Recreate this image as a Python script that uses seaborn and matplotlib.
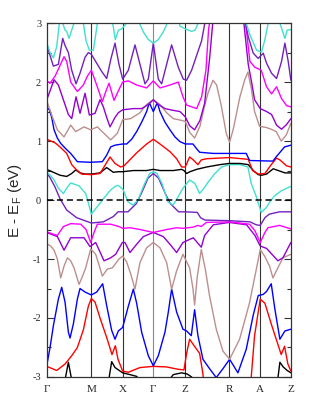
import numpy as np
import pandas as pd
import seaborn as sns
import matplotlib
matplotlib.use("Agg")
import matplotlib.pyplot as plt

# high-symmetry path
sym_labels = ["Γ", "M", "X", "Γ", "Z", "R", "A", "Z"]
sym_pos = [140, 274, 368, 460, 556, 688, 781, 873]

# ---- band energies (eV): k positions and energies ----
b01_k = [140, 185, 195, 205, 215, 225, 274, 322, 335, 345, 368, 390, 410, 425, 460, 500, 520, 545, 562, 575, 590, 688, 781, 830, 840, 850, 862, 873]
b01_e = [-3.3, -3.3, -3.05, -2.75, -3.05, -3.3, -3.3, -3.2, -2.74, -2.84, -2.93, -2.96, -2.99, -3.1, -3.2, -3.1, -2.96, -2.93, -2.95, -3.0, -3.2, -3.3, -3.3, -3.2, -2.75, -2.83, -2.89, -2.93]

b02_k = [140, 170, 195, 215, 232, 250, 265, 274, 285, 300, 320, 336, 346, 354, 368, 385, 420, 460, 500, 535, 552, 560, 569, 580, 599, 609, 616, 748, 754, 764, 781, 795, 814, 844, 854, 864, 873]
b02_e = [-2.82, -2.89, -2.78, -2.64, -2.5, -2.2, -1.8, -1.67, -1.73, -2.0, -2.33, -2.62, -2.47, -2.7, -2.9, -2.92, -2.84, -2.82, -2.83, -2.87, -2.88, -2.6, -2.36, -2.45, -2.6, -2.95, -3.5, -3.5, -3.0, -2.3, -1.68, -1.75, -2.1, -2.62, -2.48, -2.78, -2.9]

b03_k = [140, 150, 160, 175, 185, 195, 205, 210, 220, 232, 240, 255, 274, 290, 308, 320, 335, 345, 355, 368, 385, 400, 410, 425, 445, 460, 475, 495, 505, 515, 530, 549, 560, 574, 584, 594, 609, 629, 649, 669, 689, 700, 714, 739, 760, 775, 790, 800, 814, 825, 840, 855, 873]
b03_e = [-2.81, -2.5, -2.13, -1.68, -1.48, -1.73, -2.24, -2.34, -2.1, -1.68, -1.5, -1.56, -1.61, -1.56, -1.42, -1.79, -2.21, -2.36, -2.22, -2.16, -1.8, -1.51, -1.75, -2.24, -2.64, -2.81, -2.64, -2.24, -1.9, -1.51, -1.9, -2.19, -2.22, -2.3, -1.86, -2.3, -2.7, -2.86, -3.01, -2.86, -2.7, -2.8, -2.93, -2.53, -1.95, -1.62, -1.6, -1.55, -1.42, -1.85, -2.36, -2.22, -2.19]

b04_k = [140, 152, 162, 172, 182, 192, 202, 212, 222, 237, 247, 257, 272, 287, 297, 307, 322, 337, 357, 368, 380, 392, 405, 420, 440, 460, 480, 500, 515, 530, 549, 569, 579, 584, 592, 604, 617, 629, 649, 669, 689, 719, 749, 769, 781, 794, 809, 819, 834, 849, 873]
b04_e = [-0.74, -0.78, -0.85, -1.0, -1.32, -1.12, -0.98, -1.03, -1.15, -1.43, -1.3, -1.15, -0.83, -0.92, -1.1, -1.29, -1.17, -1.15, -1.0, -0.95, -1.05, -1.25, -1.51, -1.06, -0.81, -0.72, -0.81, -1.06, -1.51, -1.2, -0.92, -1.15, -1.5, -1.78, -1.3, -0.84, -1.2, -1.63, -2.19, -2.56, -2.7, -2.36, -1.74, -1.18, -0.84, -0.95, -1.12, -1.32, -1.15, -0.98, -0.92]

b05_k = [140, 172, 192, 212, 252, 270, 287, 312, 332, 347, 367, 375, 390, 410, 430, 460, 490, 510, 530, 549, 580, 604, 614, 640, 688, 740, 765, 781, 800, 834, 849, 873]
b05_e = [-0.55, -0.62, -0.85, -0.64, -0.64, -0.79, -0.72, -1.03, -0.98, -0.92, -0.72, -0.72, -0.89, -0.75, -0.62, -0.55, -0.62, -0.75, -0.89, -0.72, -0.64, -0.8, -0.6, -0.42, -0.38, -0.42, -0.6, -0.78, -0.82, -1.03, -0.98, -0.72]

b06_k = [140, 160, 172, 190, 212, 242, 258, 272, 282, 292, 332, 357, 368, 390, 420, 460, 500, 530, 549, 579, 594, 604, 619, 689, 749, 765, 781, 795, 804, 839, 873]
b06_e = [-0.54, -0.58, -0.6, -0.45, -0.4, -0.41, -0.5, -0.72, -0.55, -0.41, -0.41, -0.45, -0.48, -0.47, -0.5, -0.55, -0.5, -0.47, -0.48, -0.46, -0.43, -0.45, -0.38, -0.37, -0.41, -0.52, -0.72, -0.55, -0.47, -0.43, -0.49]

b07_k = [140, 150, 165, 180, 200, 230, 274, 310, 340, 354, 384, 409, 424, 444, 460, 476, 496, 511, 536, 556, 592, 602, 615, 688, 750, 769, 781, 795, 808, 839, 873]
b07_e = [0.46, 0.38, 0.22, 0.02, -0.17, -0.3, -0.39, -0.37, -0.28, -0.2, -0.2, -0.06, 0.11, 0.37, 0.45, 0.37, 0.11, -0.06, -0.2, -0.2, -0.21, -0.3, -0.34, -0.35, -0.37, -0.42, -0.43, -0.3, -0.24, -0.2, -0.2]

b08_k = [140, 150, 162, 175, 190, 200, 212, 237, 257, 265, 274, 285, 302, 317, 330, 345, 354, 369, 384, 399, 414, 434, 449, 460, 471, 486, 504, 519, 534, 549, 569, 585, 599, 612, 624, 645, 665, 688, 720, 744, 754, 769, 784, 799, 811, 824, 845, 873]
b08_e = [0.47, 0.42, 0.34, 0.2, 0.11, 0.2, 0.29, 0.24, 0.11, -0.05, -0.24, -0.16, -0.04, 0.07, 0.16, 0.23, 0.25, 0.18, -0.03, -0.085, 0.0, 0.28, 0.45, 0.48, 0.45, 0.28, -0.03, -0.085, 0.05, 0.2, 0.34, 0.28, 0.11, 0.2, 0.3, 0.45, 0.56, 0.6, 0.6, 0.56, 0.28, 0.06, -0.21, -0.13, -0.02, 0.07, 0.16, 0.23]

b09_k = [140, 160, 180, 200, 215, 227, 240, 255, 274, 300, 320, 340, 354, 368, 400, 440, 460, 480, 520, 545, 552, 560, 570, 590, 620, 660, 688, 720, 745, 760, 775, 785, 800, 820, 835, 855, 873]
b09_e = [0.52, 0.47, 0.42, 0.4, 0.45, 0.51, 0.46, 0.44, 0.44, 0.46, 0.55, 0.47, 0.48, 0.48, 0.5, 0.5, 0.52, 0.5, 0.5, 0.52, 0.5, 0.45, 0.48, 0.52, 0.56, 0.6, 0.62, 0.62, 0.6, 0.5, 0.43, 0.42, 0.44, 0.53, 0.5, 0.46, 0.46]

b10_k = [140, 165, 180, 200, 215, 228, 245, 274, 300, 312, 330, 345, 362, 372, 386, 410, 440, 460, 480, 510, 530, 545, 556, 569, 580, 594, 604, 620, 688, 745, 758, 775, 795, 814, 830, 840, 860, 873]
b10_e = [1.03, 0.97, 0.9, 0.79, 0.6, 0.52, 0.44, 0.43, 0.45, 0.56, 0.73, 0.62, 0.56, 0.58, 0.66, 0.8, 0.95, 1.03, 0.95, 0.82, 0.7, 0.56, 0.56, 0.73, 0.68, 0.6, 0.68, 0.7, 0.72, 0.69, 0.5, 0.44, 0.45, 0.6, 0.71, 0.68, 0.58, 0.56]

b11_k = [140, 147, 155, 162, 172, 182, 197, 212, 225, 232, 270, 307, 320, 332, 345, 368, 380, 395, 410, 425, 440, 448, 460, 472, 480, 495, 510, 525, 540, 556, 579, 590, 599, 640, 739, 749, 819, 830, 839, 854, 873]
b11_e = [1.53, 1.55, 1.4, 1.19, 1.05, 0.96, 0.87, 0.79, 0.7, 0.65, 0.64, 0.65, 0.76, 0.9, 0.93, 0.95, 0.95, 1.03, 1.16, 1.32, 1.5, 1.65, 1.5, 1.65, 1.5, 1.32, 1.19, 1.07, 0.99, 0.95, 0.95, 0.87, 0.81, 0.79, 0.79, 0.67, 0.66, 0.74, 0.8, 0.9, 0.93]

b12_k = [140, 157, 172, 192, 212, 227, 252, 272, 292, 312, 332, 352, 368, 392, 420, 440, 460, 480, 500, 520, 545, 556, 569, 584, 600, 612, 624, 639, 650, 664, 679, 689, 700, 720, 734, 744, 754, 764, 779, 799, 814, 829, 844, 859, 873]
b12_e = [1.68, 1.41, 1.19, 1.07, 1.27, 1.16, 1.24, 1.19, 1.24, 1.13, 1.02, 1.13, 1.36, 1.38, 1.48, 1.62, 1.7, 1.62, 1.48, 1.38, 1.35, 1.33, 1.15, 1.05, 1.25, 1.55, 1.81, 2.03, 1.95, 1.6, 1.13, 0.98, 1.2, 1.75, 2.03, 2.17, 1.9, 1.5, 1.25, 1.23, 1.2, 1.16, 1.0, 1.1, 1.3]

b13_k = [140, 150, 162, 175, 190, 205, 215, 228, 240, 255, 268, 285, 300, 310, 320, 330, 345, 355, 368, 400, 425, 445, 460, 475, 495, 520, 540, 556, 569, 584, 600, 614, 629, 640, 650, 720, 730, 745, 755, 764, 781, 800, 815, 830, 845, 860, 873]
b13_e = [1.7, 1.85, 2.04, 1.95, 1.7, 1.45, 1.38, 1.75, 1.47, 1.81, 1.44, 1.47, 1.7, 1.58, 1.4, 1.24, 1.4, 1.48, 1.53, 1.55, 1.55, 1.62, 1.7, 1.62, 1.55, 1.52, 1.5, 1.41, 1.26, 1.19, 1.35, 1.64, 2.4, 3.1, 3.4, 3.4, 3.1, 2.3, 2.0, 1.7, 1.55, 1.5, 1.45, 1.27, 1.2, 1.28, 1.38]

b14_k = [140, 150, 160, 165, 175, 192, 200, 212, 232, 250, 262, 274, 290, 307, 318, 327, 342, 355, 368, 385, 410, 440, 460, 480, 510, 535, 549, 560, 575, 590, 605, 618, 626, 632, 642, 725, 735, 750, 765, 784, 800, 815, 830, 845, 860, 873]
b14_e = [2.02, 1.98, 2.06, 2.1, 2.22, 2.43, 2.35, 2.0, 1.84, 1.95, 2.1, 2.2, 1.95, 1.67, 1.85, 1.98, 1.69, 1.85, 2.0, 2.02, 1.95, 1.9, 2.02, 1.9, 1.95, 2.0, 1.75, 1.61, 1.58, 1.55, 1.75, 2.2, 2.9, 3.1, 3.4, 3.4, 3.1, 2.35, 2.25, 2.2, 1.92, 1.8, 1.92, 1.72, 1.6, 1.58]

b15_k = [140, 150, 160, 175, 188, 195, 205, 215, 228, 240, 255, 265, 274, 290, 305, 320, 333, 345, 357, 368, 385, 405, 420, 435, 445, 460, 475, 485, 500, 515, 535, 550, 560, 575, 590, 605, 618, 625, 725, 733, 745, 760, 775, 790, 800, 815, 830, 845, 855, 865, 873]
b15_e = [2.64, 2.45, 2.27, 2.3, 2.74, 2.62, 2.5, 2.2, 1.97, 2.15, 2.42, 2.5, 2.47, 2.32, 2.18, 2.06, 2.4, 2.66, 2.3, 2.05, 2.2, 2.63, 2.3, 1.97, 2.05, 2.66, 2.05, 1.97, 2.3, 2.63, 2.25, 2.05, 2.03, 2.2, 2.45, 2.7, 3.1, 3.4, 3.4, 3.1, 2.77, 2.49, 2.4, 2.49, 2.32, 2.15, 2.06, 2.35, 2.66, 2.35, 2.03]

b16_k = [140, 150, 160, 170, 178, 183, 188, 195, 200, 207, 215, 222, 230, 245, 250, 258, 268, 280, 287, 292, 300, 332, 338, 346, 355, 365, 380, 390, 410, 418, 430, 445, 460, 475, 490, 502, 510, 530, 540, 556, 575, 585, 595, 605, 728, 736, 750, 770, 785, 795, 805, 810, 835, 840, 855, 862, 873]
b16_e = [2.66, 2.5, 2.41, 2.6, 3.0, 3.2, 3.0, 2.88, 2.86, 2.74, 2.88, 3.0, 3.2, 3.2, 3.0, 2.7, 2.54, 2.54, 2.8, 3.0, 3.2, 3.2, 3.0, 2.72, 2.88, 2.9, 3.0, 3.2, 3.2, 3.0, 2.85, 2.72, 2.66, 2.72, 2.85, 3.0, 3.2, 3.2, 2.95, 2.9, 2.86, 2.88, 3.0, 3.2, 3.2, 3.05, 2.8, 2.54, 2.51, 2.72, 3.0, 3.2, 3.2, 3.0, 2.74, 2.88, 2.89]

band_k = [b01_k, b02_k, b03_k, b04_k, b05_k, b06_k, b07_k, b08_k,
          b09_k, b10_k, b11_k, b12_k, b13_k, b14_k, b15_k, b16_k]
band_e = [b01_e, b02_e, b03_e, b04_e, b05_e, b06_e, b07_e, b08_e,
          b09_e, b10_e, b11_e, b12_e, b13_e, b14_e, b15_e, b16_e]

# xmgrace-like colour cycle
cycle = ["#000000", "#ff0000", "#0000ff", "#bc8f8f", "#9400d3", "#ff00ff", "#7221bc", "#40e0d0"]

frames = []
for i, (kk, ee) in enumerate(zip(band_k, band_e)):
    frames.append(pd.DataFrame({"k": kk, "E": ee, "band": f"b{i+1:02d}"}))
df = pd.concat(frames, ignore_index=True)
palette = {f"b{i+1:02d}": cycle[i % 8] for i in range(len(band_k))}

sns.set_style("ticks")
plt.rcParams["font.family"] = ["Liberation Serif", "DejaVu Serif"]
plt.rcParams["mathtext.fontset"] = "custom"
plt.rcParams["mathtext.rm"] = "Liberation Sans"

fig = plt.figure(figsize=(3.2, 4.12), dpi=100)
ax = fig.add_axes([0.146, 0.085, 0.763, 0.859])

for i, p in enumerate(sym_pos[1:-1]):
    ax.axvline(p, color="#888888" if sym_labels[i + 1] == "Γ" else "#333333", lw=0.8, zorder=1)

sns.lineplot(data=df, x="k", y="E", hue="band", palette=palette, sort=False,
             estimator=None, legend=False, linewidth=1.0, ax=ax, zorder=2)

ax.axhline(0, color="black", lw=1.1, ls=(0, (4, 2.5)), zorder=3)

ax.set_xlim(sym_pos[0], sym_pos[-1])
ax.set_ylim(-3, 3)
ax.set_xticks(sym_pos)
ax.set_xticklabels(sym_labels, fontsize=8)
ax.tick_params(axis="x", length=0, pad=6)
yt = list(range(-3, 4))
ax.set_yticks(yt)
ax.set_yticklabels([str(v) for v in yt], fontsize=7.5)
ax.set_yticks(np.arange(-2.5, 3, 1.0), minor=True)
ax.tick_params(axis="y", which="both", direction="in", left=True, right=True, width=0.8, color="#333333")
ax.tick_params(axis="y", which="major", length=5, pad=4)
ax.tick_params(axis="y", which="minor", length=3)
ax.set_xlabel("")
ax.set_ylabel(r"E - E$_\mathrm{F}$ (eV)", fontsize=11, family=["Liberation Sans", "DejaVu Sans"], labelpad=6)
for s in ax.spines.values():
    s.set_color("#333333")
    s.set_linewidth(0.9)

fig.savefig("out.png", dpi=100)
